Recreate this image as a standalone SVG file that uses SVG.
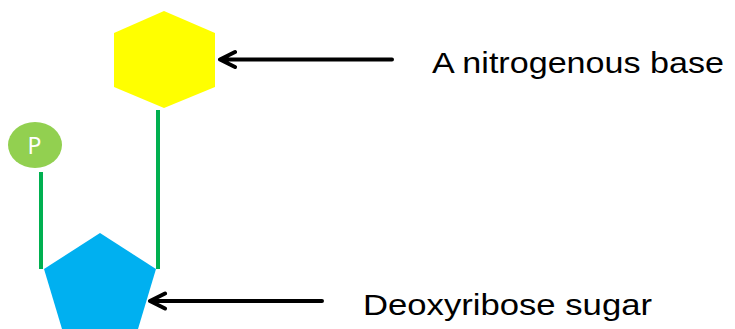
<svg xmlns="http://www.w3.org/2000/svg" width="735" height="329" viewBox="0 0 735 329">
<defs>
<style>
.bond{stroke:#00B050;stroke-width:4;fill:none}
.arrow{stroke:#000;stroke-width:4;fill:none;stroke-linecap:round;stroke-linejoin:round}
.label{font-family:"Liberation Sans",Arial,sans-serif;font-size:29px;fill:#000}
</style>
</defs>
<rect width="735" height="329" fill="#fff"/>
<g id="base">
<polygon points="164,11 215,33 215,87 164,108 114,87 114,33" fill="#FFFF00"/>
</g>
<g id="phosphate">
<ellipse cx="35" cy="145" rx="27" ry="23" fill="#92D050"/>
<text x="34.5" y="154" text-anchor="middle" font-family="'Noto Sans','Liberation Sans',sans-serif" font-size="23" fill="#fff">P</text>
</g>
<g id="sugar">
<polygon points="100,233 156,269 135,339 65,339 44,269" fill="#00B0F0"/>
</g>
<g id="connectors">
<line class="bond" x1="158" y1="110" x2="158" y2="269"/>
<line class="bond" x1="41" y1="172" x2="41" y2="269"/>
<path class="arrow" d="M392,59.5 H220 M235,52 L220,59.5 L235,67"/>
<path class="arrow" d="M322,301 H150 M165,293.5 L150,301 L165,308.5"/>
</g>
<g id="label-base">
<text class="label" x="432" y="73" textLength="292" lengthAdjust="spacingAndGlyphs">A nitrogenous base</text>
</g>
<g id="label-sugar">
<text class="label" x="363" y="315" textLength="289" lengthAdjust="spacingAndGlyphs">Deoxyribose sugar</text>
</g>
</svg>
